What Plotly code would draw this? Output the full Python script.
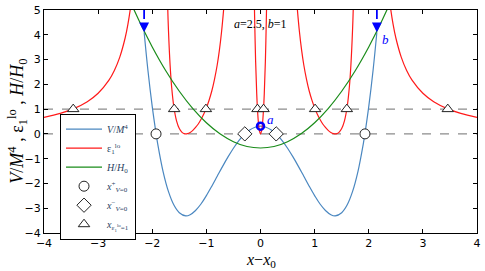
import plotly.graph_objects as go

# ---- data ----
v_x = [-2.15, -2.08, -2.0, -1.93, -1.9, -1.8, -1.7, -1.6, -1.5, -1.38, -1.3, -1.2, -1.1, -1.0, -0.9, -0.8,
       -0.7, -0.6, -0.5, -0.4, -0.29, -0.2, -0.1, 0.0, 0.1, 0.2, 0.29, 0.4, 0.5, 0.6, 0.7, 0.8, 0.9, 1.0,
       1.1, 1.2, 1.3, 1.38, 1.5, 1.6, 1.7, 1.8, 1.9, 1.93, 2.0, 2.08, 2.15]
v_y = [4.10, 2.57, 1.10, 0.02, -0.39, -1.52, -2.33, -2.87, -3.18, -3.31, -3.26, -3.09, -2.83, -2.49, -2.11, -1.71,
       -1.31, -0.93, -0.58, -0.27, 0.0, 0.16, 0.27, 0.31, 0.27, 0.16, 0.0, -0.27, -0.58, -0.93, -1.31, -1.71, -2.11, -2.49,
       -2.83, -3.09, -3.26, -3.31, -3.18, -2.87, -2.33, -1.52, -0.39, 0.02, 1.10, 2.57, 4.10]

# epsilon_1^lo branches
eps_outer_r_x = [2.35, 2.40, 2.45, 2.5, 2.6, 2.7, 2.8, 3.0, 3.2, 3.46, 3.7, 4.0]
eps_outer_r_y = [6.03, 5.12, 4.42, 3.88, 3.10, 2.56, 2.17, 1.64, 1.30, 1.01, 0.83, 0.67]
eps_outer_l_x = [-4.0, -3.7, -3.46, -3.2, -3.0, -2.8, -2.7, -2.6, -2.5, -2.45, -2.40, -2.35]
eps_outer_l_y = [0.67, 0.83, 1.01, 1.30, 1.64, 2.17, 2.56, 3.10, 3.88, 4.42, 5.12, 6.03]
eps_mid_r_x = [0.66, 0.68, 0.72, 0.76, 0.8, 0.85, 0.9, 0.95, 1.0, 1.05, 1.1, 1.15, 1.2, 1.25, 1.3, 1.35, 1.38,
               1.41, 1.45, 1.5, 1.55, 1.6, 1.64, 1.67, 1.70, 1.72, 1.73]
eps_mid_r_y = [5.62, 5.05, 4.11, 3.37, 2.78, 2.20, 1.73, 1.36, 1.05, 0.79, 0.58, 0.40, 0.26, 0.14, 0.057, 0.009, 0.0,
               0.011, 0.063, 0.215, 0.516, 1.075, 1.85, 2.77, 4.16, 5.51, 6.37]
eps_mid_l_x = [-1.73, -1.72, -1.70, -1.67, -1.64, -1.6, -1.55, -1.5, -1.45, -1.41, -1.38, -1.35, -1.3, -1.25, -1.2,
               -1.15, -1.1, -1.05, -1.0, -0.95, -0.9, -0.85, -0.8, -0.76, -0.72, -0.68, -0.66]
eps_mid_l_y = [6.37, 5.51, 4.16, 2.77, 1.85, 1.075, 0.516, 0.215, 0.063, 0.011, 0.0, 0.009, 0.057, 0.14, 0.26,
               0.40, 0.58, 0.79, 1.05, 1.36, 1.73, 2.20, 2.78, 3.37, 4.11, 5.05, 5.62]
eps_c_x = [-0.12, -0.115, -0.11, -0.09, -0.07, -0.056, -0.04, -0.02, 0.0, 0.02, 0.04, 0.056, 0.07, 0.09, 0.11, 0.115, 0.12]
eps_c_y = [6.15, 5.47, 4.85, 2.92, 1.63, 1.0, 0.49, 0.12, 0.0, 0.12, 0.49, 1.0, 1.63, 2.92, 4.85, 5.47, 6.15]

# H/H0
h_x = [-2.45, -2.4, -2.2, -2.0, -1.75, -1.5, -1.25, -1.0, -0.75, -0.5, -0.25, 0.0,
       0.25, 0.5, 0.75, 1.0, 1.25, 1.5, 1.75, 2.0, 2.2, 2.4, 2.45]
h_y = [5.55, 5.31, 4.37, 3.51, 2.55, 1.72, 1.02, 0.45, 0.004, -0.315, -0.51, -0.57,
       -0.51, -0.315, 0.004, 0.45, 1.02, 1.72, 2.55, 3.51, 4.37, 5.31, 5.55]

# special points
xv_plus = [-1.93, 1.93]
xv_minus = [-0.29, 0.29]
x_eps1 = [-3.46, -1.595, -1.009, -0.056, 0.056, 1.009, 1.595, 3.46]

# arrows a, b
arrow_b_x = [-2.15, 2.15]
arrow_b_y = 4.10
point_a_x = 0.0
point_a_y = 0.31

x_ticks = [-4, -3, -2, -1, 0, 1, 2, 3, 4]
y_ticks = [-4, -3, -2, -1, 0, 1, 2, 3, 4, 5]

BLUE = "#4a87c0"
RED = "#ff1a1a"
GREEN = "#1a8c1a"
SERIF = "Liberation Serif"

fig = go.Figure()

# dashed reference lines
for yy in [0, 1]:
    fig.add_trace(go.Scatter(x=[-4, 4], y=[yy, yy], mode="lines",
                             line=dict(color="#8c8c8c", width=1.2, dash="dash"),
                             showlegend=False, hoverinfo="skip"))

fig.add_trace(go.Scatter(x=v_x, y=v_y, mode="lines", line=dict(color=BLUE, width=1.2, shape="spline"),
                         name="<i>V</i>/<i>M</i><sup>4</sup>"))
red_branches = [(eps_outer_l_x, eps_outer_l_y), (eps_mid_l_x, eps_mid_l_y), (eps_c_x, eps_c_y),
                (eps_mid_r_x, eps_mid_r_y), (eps_outer_r_x, eps_outer_r_y)]
for i, (bx, by) in enumerate(red_branches):
    fig.add_trace(go.Scatter(x=bx, y=by, mode="lines", line=dict(color=RED, width=1.2, shape="spline"),
                             name="ε<sub>1</sub><sup>lo</sup>", showlegend=(i == 0), legendgroup="eps"))
fig.add_trace(go.Scatter(x=h_x, y=h_y, mode="lines", line=dict(color=GREEN, width=1.2, shape="spline"),
                         name="<i>H</i>/<i>H</i><sub>0</sub>"))

# blue dashed arrows
for ax_ in arrow_b_x:
    fig.add_trace(go.Scatter(x=[ax_, ax_], y=[5.0, arrow_b_y + 0.25], mode="lines",
                             line=dict(color="#0000ff", width=1.8, dash="dash"),
                             showlegend=False, hoverinfo="skip"))
    fig.add_annotation(x=ax_, y=arrow_b_y, ax=0, ay=-10, axref="pixel", ayref="pixel",
                       showarrow=True, arrowhead=2, arrowsize=1.1, arrowwidth=1.8, arrowcolor="#0000ff", text="")

fig.add_trace(go.Scatter(x=[point_a_x], y=[point_a_y], mode="markers",
                         marker=dict(symbol="circle-open", size=7, color="#0000ff", line=dict(width=2.5)),
                         showlegend=False, hoverinfo="skip"))

mk = dict(color="white", size=10, line=dict(color="#222222", width=1))
fig.add_trace(go.Scatter(x=xv_plus, y=[0] * len(xv_plus), mode="markers",
                         marker=dict(symbol="circle", **mk),
                         name="<i>x</i><sup>+</sup><sub><i>V</i>=0</sub>"))
fig.add_trace(go.Scatter(x=xv_minus, y=[0] * len(xv_minus), mode="markers",
                         marker=dict(symbol="diamond", **{**mk, "size": 11}),
                         name="<i>x</i><sup>−</sup><sub><i>V</i>=0</sub>"))
fig.add_trace(go.Scatter(x=x_eps1, y=[1] * len(x_eps1), mode="markers",
                         marker=dict(symbol="triangle-up", **mk),
                         name="<i>x</i><sub>ε<sub>1</sub><sup>lo</sup>=1</sub>"))

# labels
fig.add_annotation(x=2.15, y=arrow_b_y, xshift=9, yshift=-7, text="<i>b</i>", showarrow=False,
                   font=dict(family=SERIF, size=13, color="#0000ff"))
fig.add_annotation(x=point_a_x, y=point_a_y, xshift=10, yshift=7, text="<i>a</i>", showarrow=False,
                   font=dict(family=SERIF, size=13, color="#0000ff"))
fig.add_annotation(x=0, y=4.45, text="<i>a</i>=2.5, <i>b</i>=1", showarrow=False,
                   font=dict(family=SERIF, size=12, color="black"))

# axis titles
fig.add_annotation(xref="paper", yref="paper", x=0.5, y=-0.122, yanchor="middle", showarrow=False,
                   text="<i>x</i>−<i>x</i><sub>0</sub>", font=dict(family=SERIF, size=16, color="black"))
fig.add_annotation(xref="paper", yref="paper", x=-0.062, y=0.5, xanchor="center", yanchor="middle",
                   textangle=-90, showarrow=False,
                   text="<i>V</i>/<i>M</i><sup>4</sup> , ε<sub>1</sub><sup>lo</sup> , <i>H</i>/<i>H</i><sub>0</sub>",
                   font=dict(family=SERIF, size=18, color="black"))

# legend shadow
fig.add_shape(type="rect", xref="paper", yref="paper", x0=0.044, x1=0.212, y0=-0.012, y1=0.52,
              fillcolor="#555555", line=dict(width=0), layer="above")

axis_common = dict(showgrid=False, zeroline=False, showline=True, linecolor="black", linewidth=1.2,
                   ticks="inside", ticklen=4, tickcolor="black", mirror="ticks", automargin=False,
                   tickfont=dict(family="DejaVu Sans", size=11, color="black"))

fig.update_layout(
    width=485, height=271,
    margin=dict(l=44, r=8, t=10, b=38, autoexpand=False),
    plot_bgcolor="white", paper_bgcolor="white",
    xaxis=dict(range=[-4, 4], tickvals=x_ticks, **axis_common),
    yaxis=dict(range=[-4, 5], tickvals=y_ticks, **axis_common),
    legend=dict(x=0.037, y=0.535, xanchor="left", yanchor="top", bgcolor="white",
                bordercolor="black", borderwidth=1, font=dict(family=SERIF, size=10),
                tracegroupgap=0, itemwidth=36),
    showlegend=True,
)

fig.write_html("out.html", config={"displayModeBar": False},
               post_script="document.body.style.margin='0';")
